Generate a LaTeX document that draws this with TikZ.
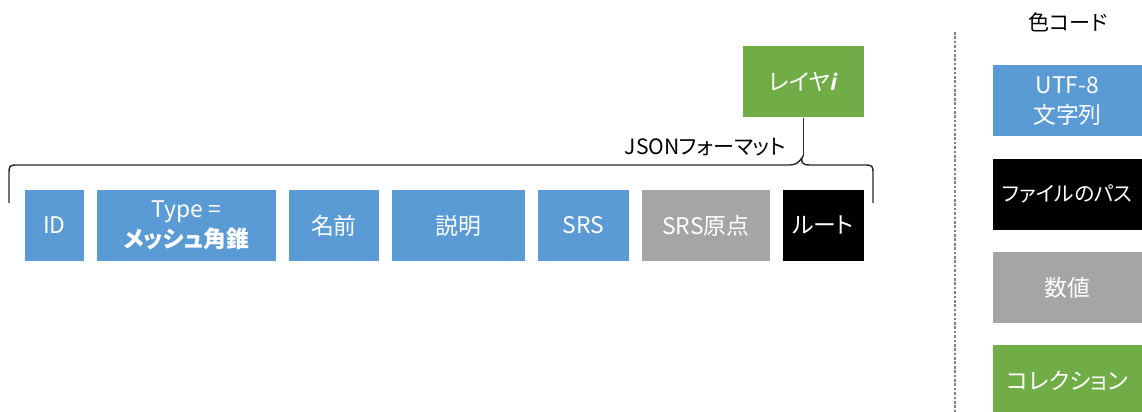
\documentclass[tikz,border=0pt]{standalone}
\usepackage{fontspec}
\setmainfont{Noto Sans CJK JP}[RawFeature=+palt]
\newfontfamily\italicfont{Open Sans}
\usetikzlibrary{positioning}
\definecolor{FieldBlue}{RGB}{91,155,213}
\definecolor{FieldGray}{RGB}{165,165,165}
\definecolor{FieldGreen}{RGB}{112,173,71}
\definecolor{BraceGray}{RGB}{40,40,40}

\begin{document}
\begin{tikzpicture}[
    field/.style={rectangle,minimum height=1.42cm,inner sep=2pt,text=white,align=center,font=\fontsize{13}{17}\selectfont},
    strfield/.style={field,fill=FieldBlue},
    pathfield/.style={field,fill=black},
    numfield/.style={field,fill=FieldGray},
    collfield/.style={field,fill=FieldGreen},
    caption/.style={font=\fontsize{12}{14}\selectfont,text=black},
    brace/.style={draw=BraceGray,line width=0.8pt}
]

\useasboundingbox (0,0) rectangle (22.84,-8.24);

% Fields of the layer
\node[strfield,minimum width=1.18cm] (id) at (1.09,-4.51) {ID};
\node[strfield,minimum width=3.58cm,right=0.245cm of id] (type) {Type =\\\textbf{メッシュ角錐}};
\node[strfield,minimum width=1.80cm,right=0.245cm of type] (name) {名前};
\node[strfield,minimum width=2.66cm,right=0.245cm of name] (desc) {説明};
\node[strfield,minimum width=1.82cm,right=0.245cm of desc] (srs) {SRS};
\node[numfield,minimum width=2.56cm,right=0.245cm of srs] (srs-origin) {SRS原点};
\node[pathfield,minimum width=1.62cm,right=0.245cm of srs-origin] (root) {ルート};

% Layer
\node[collfield,minimum width=2.42cm,anchor=south east] (layer) at ([yshift=1.44cm]root.north east) {レイヤ{\italicfont\bfseries\itshape i}};

% Brace
\coordinate (brace-tip) at ([yshift=-0.76cm]layer.south);
\draw[brace] (layer.south) -- (brace-tip);
\draw[brace] (0.18,-4.06) -- (0.18,-3.50) .. controls (0.18,-3.30) .. (0.38,-3.30) -- (15.79,-3.30)
    .. controls (15.93,-3.30) and (15.99,-3.24) .. (brace-tip)
    .. controls (15.99,-3.24) and (16.05,-3.30) .. (16.19,-3.30) -- (17.26,-3.30)
    .. controls (17.46,-3.30) .. (17.46,-3.50) -- (17.46,-4.06);
\node[caption,anchor=east] (json) at ([xshift=-0.22cm,yshift=0.18cm]brace-tip) {JSONフォーマット};

% Color code
\coordinate (sep-top) at (19.1,-0.64);
\coordinate (sep-bot) at (19.1,-8.24);
\draw[gray,line width=0.6pt,dash pattern=on 1.5pt off 1pt] (sep-top) -- (sep-bot);
\node[caption] (legend-title) at (21.36,-0.44) {色コード};
\node[strfield,minimum width=3cm] (leg-str) at (21.35,-2.02) {UTF-8\\文字列};
\node[pathfield,minimum width=3cm,font=\fontsize{11.8}{17}\selectfont,below=0.43cm of leg-str] (leg-path) {ファイルのパス};
\node[numfield,minimum width=3cm,below=0.43cm of leg-path] (leg-num) {数値};
\node[collfield,minimum width=3cm,below=0.43cm of leg-num] (leg-coll) {コレクション};

\end{tikzpicture}
\end{document}
